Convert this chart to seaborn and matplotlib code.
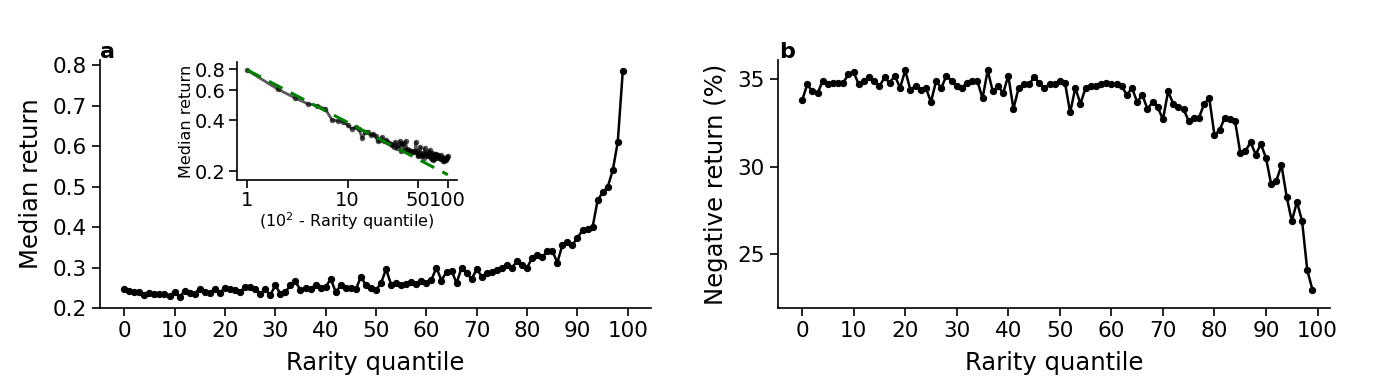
import numpy as np
import pandas as pd
import matplotlib
matplotlib.use("Agg")
import matplotlib.pyplot as plt
import seaborn as sns

sns.set_style("ticks", {"axes.edgecolor": "black", "text.color": "black",
                        "axes.labelcolor": "black", "xtick.color": "black",
                        "ytick.color": "black"})
plt.rcParams['font.family'] = ['DejaVu Sans']

quantile = list(range(100))

median_return = [
    0.247, 0.241, 0.240, 0.240, 0.233, 0.238, 0.234, 0.236, 0.236, 0.230,
    0.240, 0.228, 0.242, 0.238, 0.236, 0.248, 0.240, 0.238, 0.246, 0.238,
    0.250, 0.246, 0.244, 0.240, 0.252, 0.252, 0.248, 0.236, 0.246, 0.232,
    0.256, 0.236, 0.240, 0.256, 0.266, 0.244, 0.250, 0.246, 0.258, 0.250,
    0.252, 0.272, 0.240, 0.256, 0.250, 0.250, 0.246, 0.278, 0.256, 0.250,
    0.244, 0.262, 0.296, 0.258, 0.262, 0.258, 0.260, 0.264, 0.260, 0.266,
    0.262, 0.270, 0.300, 0.268, 0.290, 0.292, 0.262, 0.300, 0.286, 0.272,
    0.296, 0.278, 0.286, 0.290, 0.294, 0.298, 0.306, 0.300, 0.316, 0.306,
    0.300, 0.324, 0.332, 0.326, 0.340, 0.342, 0.312, 0.356, 0.362, 0.356,
    0.374, 0.392, 0.396, 0.400, 0.466, 0.486, 0.499, 0.540, 0.610, 0.786,
]

negative_return = [
    33.8, 34.7, 34.3, 34.2, 34.9, 34.7, 34.8, 34.8, 34.8, 35.3,
    35.4, 34.7, 34.9, 35.1, 34.9, 34.6, 35.1, 34.8, 35.2, 34.5,
    35.5, 34.4, 34.6, 34.4, 34.5, 33.7, 34.9, 34.5, 35.2, 34.9,
    34.6, 34.5, 34.8, 34.9, 34.9, 33.9, 35.5, 34.3, 34.6, 34.2,
    35.2, 33.3, 34.5, 34.7, 34.7, 35.1, 34.8, 34.5, 34.7, 34.7,
    34.9, 34.8, 33.1, 34.5, 33.6, 34.5, 34.6, 34.6, 34.7, 34.8,
    34.7, 34.7, 34.6, 34.1, 34.5, 33.7, 34.1, 33.3, 33.7, 33.4,
    32.7, 34.3, 33.6, 33.4, 33.3, 32.6, 32.8, 32.8, 33.6, 33.9,
    31.8, 32.1, 32.8, 32.7, 32.6, 30.8, 30.9, 31.4, 30.7, 31.3,
    30.5, 29.0, 29.2, 30.1, 28.3, 26.9, 28.0, 26.9, 24.1, 23.0,
]

fit_amplitude = 0.79
fit_exponent = -0.309

left_ticks = [0.2, 0.3, 0.4, 0.5, 0.6, 0.7, 0.8]
right_ticks = [25, 30, 35]
x_ticks = list(range(0, 101, 10))
inset_xticks = [1, 10, 50, 100]
inset_yticks = [0.2, 0.4, 0.6, 0.8]

df = pd.DataFrame({"q": quantile, "median": median_return, "neg": negative_return})
df["inv"] = 100 - df["q"]

fig = plt.figure(figsize=(13.97, 3.89), dpi=100)
ax1 = fig.add_axes([0.0716, 0.208, 0.3944, 0.638])
ax2 = fig.add_axes([0.557, 0.208, 0.395, 0.638])
axin = fig.add_axes([0.1697, 0.537, 0.1573, 0.3035])

lw = 1.8
ms = 4.5
tick_fs = 15.5
label_fs = 17.5
sns.lineplot(data=df, x="q", y="median", ax=ax1, color="black", marker="o",
             markersize=ms, linewidth=lw, markeredgecolor="black")
ax1.set_xlim(-4.8, 104.6)
ax1.set_ylim(0.2, 0.813)
ax1.set_xticks(x_ticks)
ax1.set_yticks(left_ticks)
ax1.set_xlabel("Rarity quantile", fontsize=label_fs, labelpad=7)
ax1.set_ylabel("Median return", fontsize=label_fs, labelpad=7)
ax1.tick_params(labelsize=tick_fs, length=6, width=1.2)
sns.despine(ax=ax1)

sns.lineplot(data=df, x="q", y="neg", ax=ax2, color="black", marker="o",
             markersize=ms, linewidth=lw, markeredgecolor="black")
ax2.set_xlim(-4.65, 102.4)
ax2.set_ylim(21.94, 36.1)
ax2.set_xticks(x_ticks)
ax2.set_yticks(right_ticks)
ax2.set_xlabel("Rarity quantile", fontsize=label_fs, labelpad=7)
ax2.set_ylabel("Negative return (%)", fontsize=label_fs, labelpad=7)
ax2.tick_params(labelsize=tick_fs, length=6, width=1.2)
sns.despine(ax=ax2)

sns.lineplot(data=df, x="inv", y="median", ax=axin, color="black", marker="o",
             markersize=4, linewidth=2, alpha=0.65, markeredgecolor="none")
fx = np.array([1.0, 100.0])
axin.plot(fx, fit_amplitude * fx ** fit_exponent, color="green", linestyle="--",
          linewidth=2.2, dashes=(5, 3))
axin.set_xscale("log")
axin.set_yscale("log")
axin.set_xlim(0.79, 123)
axin.set_ylim(0.177, 0.88)
axin.set_xticks(inset_xticks)
axin.set_xticklabels([str(t) for t in inset_xticks])
axin.set_yticks(inset_yticks)
axin.set_yticklabels([str(t) for t in inset_yticks])
axin.minorticks_off()
axin.set_xlabel("(10$^2$ - Rarity quantile)", fontsize=11.5, labelpad=0)
axin.set_ylabel("Median return", fontsize=11.5, labelpad=1)
axin.tick_params(labelsize=14, length=6, width=1.2, pad=2)
sns.despine(ax=axin)

for a in (ax1, ax2, axin):
    for s in ("left", "bottom"):
        a.spines[s].set_linewidth(1.2)

fig.text(100 / 1397, 1 - 52 / 389, "a", fontsize=16, fontweight="bold", va="center", ha="left")
fig.text(779 / 1397, 1 - 52 / 389, "b", fontsize=16, fontweight="bold", va="center", ha="left")

fig.savefig("out.png", dpi=100)
